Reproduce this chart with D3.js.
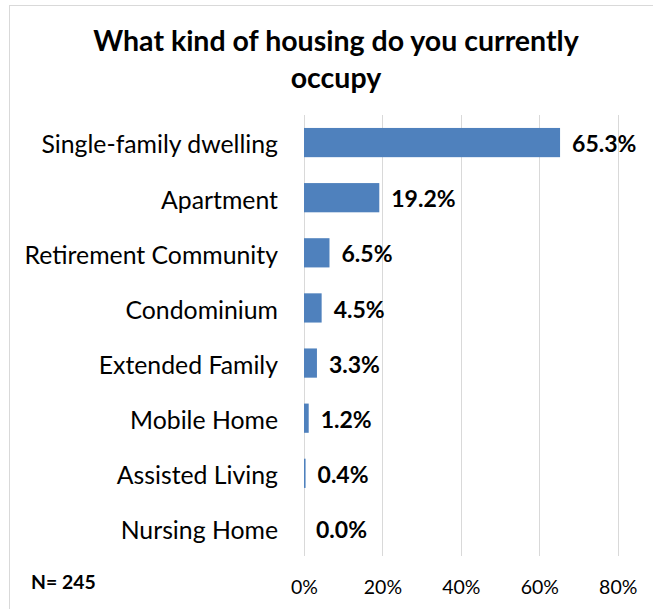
<!DOCTYPE html>
<html>
<head>
<meta charset="utf-8">
<script src="https://cdnjs.cloudflare.com/ajax/libs/d3/7.8.5/d3.min.js"></script>
<style>
  body { margin: 0; background: #fff; }
  text { font-family: Lato, "Open Sans", sans-serif; }
</style>
</head>
<body>
<div id="chart"></div>
<script>
const categories = ['Single-family dwelling', 'Apartment', 'Retirement Community', 'Condominium',
    'Extended Family', 'Mobile Home', 'Assisted Living', 'Nursing Home'];
const values = [65.3, 19.2, 6.5, 4.5, 3.3, 1.2, 0.4, 0.0];
const ticks = [0, 20, 40, 60, 80];
const titleLines = ['What kind of housing do you currently', 'occupy'];
const note = 'N= 245';

const svg = d3.select('#chart')
    .append('svg')
    .attr('width', 653)
    .attr('height', 609);

// outer border
svg.append('rect')
    .attr('x', 9.5)
    .attr('y', 5.5)
    .attr('width', 660)
    .attr('height', 620)
    .attr('fill', 'none')
    .attr('stroke', '#d9d9d9');

const x = d3.scaleLinear()
    .domain([0, 80])
    .range([304, 617.7]);

const y = d3.scaleBand()
    .domain(categories)
    .range([115, 556])
    .paddingInner(0.47)
    .paddingOuter(0.235);

// gridlines
svg.append('g')
    .selectAll('line')
    .data(ticks)
    .enter().append('line')
    .attr('x1', d => Math.round(x(d)) + 0.5)
    .attr('x2', d => Math.round(x(d)) + 0.5)
    .attr('y1', 115)
    .attr('y2', 556)
    .attr('stroke', '#d9d9d9')
    .attr('stroke-width', 1);

// x axis labels
const xAxis = d3.axisBottom(x)
    .tickValues(ticks)
    .tickFormat(d => d + '%')
    .tickSize(0)
    .tickPadding(0);

const gx = svg.append('g')
    .attr('transform', 'translate(0,580)')
    .call(xAxis);
gx.select('.domain').remove();
gx.selectAll('text')
    .style('font-size', '19.5px')
    .style('font-family', 'Lato, "Open Sans", sans-serif')
    .attr('fill', '#000');

// category labels
const yAxis = d3.axisLeft(y).tickSize(0).tickPadding(0);
const gy = svg.append('g')
    .attr('transform', 'translate(278,0)')
    .call(yAxis);
gy.select('.domain').remove();
gy.selectAll('text')
    .attr('dy', '0.44em')
    .style('font-size', '24.8px')
    .style('font-family', 'Lato, "Open Sans", sans-serif')
    .attr('fill', '#000');

// bars
svg.selectAll('.bar')
    .data(values)
    .enter().append('rect')
    .attr('class', 'bar')
    .attr('x', x(0))
    .attr('y', (d, i) => y(categories[i]))
    .attr('width', d => x(d) - x(0))
    .attr('height', y.bandwidth())
    .attr('fill', '#4f81bd');

// value labels
svg.selectAll('.val')
    .data(values)
    .enter().append('text')
    .attr('class', 'val')
    .attr('x', d => x(d) + 12)
    .attr('y', (d, i) => y(categories[i]) + y.bandwidth() / 2)
    .attr('dy', '0.42em')
    .style('font-size', '23px')
    .style('font-weight', 'bold')
    .text(d => d.toFixed(1) + '%');

// title
svg.append('text')
    .attr('text-anchor', 'middle')
    .style('font-size', '28.5px')
    .style('font-weight', 'bold')
    .selectAll('tspan')
    .data(titleLines)
    .enter().append('tspan')
    .attr('x', 336)
    .attr('y', (d, i) => 51 + i * 37)
    .text(d => d);

svg.append('text')
    .attr('x', 31)
    .attr('y', 589)
    .style('font-size', '19.4px')
    .style('font-weight', 'bold')
    .text(note);
</script>
</body>
</html>
